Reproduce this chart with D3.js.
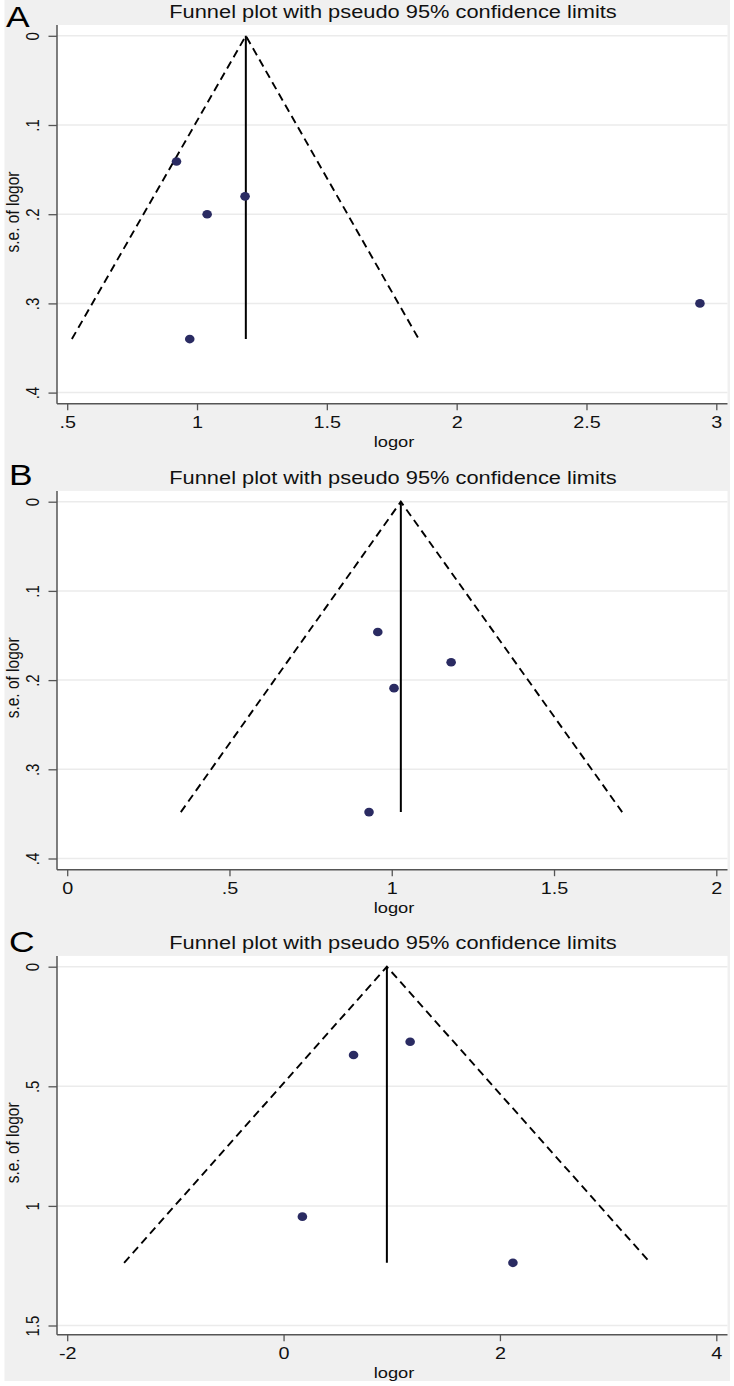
<!DOCTYPE html>
<html><head><meta charset="utf-8">
<script src="https://cdn.jsdelivr.net/npm/d3@7"></script>
<style>
html,body{margin:0;padding:0;background:#fff;}
svg{display:block;font-family:"Liberation Sans",Arial,sans-serif;}
</style></head>
<body>
<svg id="chart" width="734" height="1386"></svg>
<script>
// ---------------- data ----------------
const panelLetters = ["A", "B", "C"];
const titleText = "Funnel plot with pseudo 95% confidence limits";
const xTitle = "logor";
const yTitle = "s.e. of logor";

// Panel A
const xTicksA = [0.5, 1, 1.5, 2, 2.5, 3];
const xLabelsA = [".5", "1", "1.5", "2", "2.5", "3"];
const yTicksA = [0, 0.1, 0.2, 0.3, 0.4];
const yLabelsA = ["0", ".1", ".2", ".3", ".4"];
const logorA = [0.921, 1.039, 1.185, 0.972, 2.937];
const seA = [0.141, 0.200, 0.180, 0.340, 0.300];
const funnelXA = [0.518, 1.188, 1.854];
const funnelSeA = [0.340, 0, 0.340];
const centerA = 1.188;

// Panel B
const xTicksB = [0, 0.5, 1, 1.5, 2];
const xLabelsB = ["0", ".5", "1", "1.5", "2"];
const yTicksB = [0, 0.1, 0.2, 0.3, 0.4];
const yLabelsB = ["0", ".1", ".2", ".3", ".4"];
const logorB = [0.957, 1.183, 1.007, 0.930];
const seB = [0.146, 0.180, 0.209, 0.348];
const funnelXB = [0.350, 1.028, 1.710];
const funnelSeB = [0.348, 0, 0.348];
const centerB = 1.028;

// Panel C
const xTicksC = [-2, 0, 2, 4];
const xLabelsC = ["-2", "0", "2", "4"];
const yTicksC = [0, 0.5, 1, 1.5];
const yLabelsC = ["0", ".5", "1", "1.5"];
const logorC = [0.647, 1.170, 0.174, 2.120];
const seC = [0.369, 0.314, 1.045, 1.238];
const funnelXC = [-1.474, 0.955, 3.390];
const funnelSeC = [1.238, 0, 1.238];
const centerC = 0.955;

const panels = [
  {letter: panelLetters[0], xt: xTicksA, xl: xLabelsA, yt: yTicksA, yl: yLabelsA, x: logorA, se: seA, fx: funnelXA, fs: funnelSeA, c: centerA},
  {letter: panelLetters[1], xt: xTicksB, xl: xLabelsB, yt: yTicksB, yl: yLabelsB, x: logorB, se: seB, fx: funnelXB, fs: funnelSeB, c: centerB},
  {letter: panelLetters[2], xt: xTicksC, xl: xLabelsC, yt: yTicksC, yl: yLabelsC, x: logorC, se: seC, fx: funnelXC, fs: funnelSeC, c: centerC}
];

// ---------------- layout ----------------
const SX = 1.18;               // horizontal stretch of the original figure's text
const offsets = [0, 465.9, 930.9];
const letterBase = [27, 19.2, 21.1];
const letterX = [6, 9, 9];
const yBottomPx = [392.6, 392.6, 394.6];
const plotL = 57, plotR = 727.5, plotT = 25, plotB = 403.8;
const xR0 = 67.2, xR1 = 716.3, yR0 = 35.8;

const svg = d3.select("#chart");
svg.append("rect").attr("x", 4.5).attr("y", 0).attr("width", 725.5).attr("height", 1381).attr("fill", "#f0f0f0");

panels.forEach((p, i) => {
  const g = svg.append("g").attr("transform", `translate(0,${offsets[i]})`);
  const x = d3.scaleLinear().domain([p.xt[0], p.xt[p.xt.length - 1]]).range([xR0, xR1]);
  const y = d3.scaleLinear().domain([0, p.yt[p.yt.length - 1]]).range([yR0, yBottomPx[i]]);

  // plot region
  g.append("rect").attr("x", plotL).attr("y", plotT).attr("width", plotR - plotL).attr("height", plotB - plotT).attr("fill", "#fff");

  // grid
  g.selectAll("line.grid").data(p.yt).enter().append("line")
    .attr("x1", plotL).attr("x2", plotR)
    .attr("y1", d => y(d)).attr("y2", d => y(d))
    .attr("stroke", "#ebebeb").attr("stroke-width", 1.5);

  // funnel
  const pts = p.fx.map((v, k) => [x(v), y(p.fs[k])]);
  g.append("path").attr("d", d3.line()(pts)).attr("fill", "none")
    .attr("stroke", "#000").attr("stroke-width", 1.9).attr("stroke-dasharray", "8,5");
  g.append("line").attr("x1", x(p.c)).attr("x2", x(p.c))
    .attr("y1", y(0)).attr("y2", y(d3.max(p.fs)))
    .attr("stroke", "#000").attr("stroke-width", 2);

  // points
  g.selectAll("ellipse.pt").data(p.x.map((v, k) => [v, p.se[k]])).enter().append("ellipse")
    .attr("cx", d => x(d[0])).attr("cy", d => y(d[1]))
    .attr("rx", 4.8).attr("ry", 4.3).attr("fill", "#2a2b62");

  // axes
  const yAxis = d3.axisLeft(y).tickValues(p.yt).tickFormat((d, k) => p.yl[k]).tickSize(8.5).tickSizeOuter(0);
  const ya = g.append("g").attr("transform", `translate(${plotL},0)`).call(yAxis);
  ya.select(".domain").remove();
  ya.selectAll(".tick line").attr("stroke", "#555").attr("stroke-width", 1.3);
  ya.selectAll(".tick text")
    .attr("x", null).attr("dy", null)
    .attr("text-anchor", "middle")
    .attr("transform", `translate(-18.5,0) scale(${SX},1) rotate(-90)`)
    .attr("font-size", 15).attr("fill", "#111")
    .attr("font-family", "Liberation Sans, Arial, sans-serif");

  const xAxis = d3.axisBottom(x).tickValues(p.xt).tickFormat((d, k) => p.xl[k]).tickSize(6.5).tickSizeOuter(0);
  const xa = g.append("g").attr("transform", `translate(0,${plotB})`).call(xAxis);
  xa.select(".domain").remove();
  xa.selectAll(".tick line").attr("stroke", "#555").attr("stroke-width", 1.3);
  xa.selectAll(".tick text")
    .attr("y", null).attr("dy", null)
    .attr("text-anchor", "middle")
    .attr("transform", `translate(0,24.5) scale(${SX},1)`)
    .attr("font-size", 16.8).attr("fill", "#111")
    .attr("font-family", "Liberation Sans, Arial, sans-serif");

  g.append("line").attr("x1", plotL).attr("x2", plotL).attr("y1", plotT).attr("y2", plotB)
    .attr("stroke", "#555").attr("stroke-width", 1.5);
  g.append("line").attr("x1", plotL).attr("x2", plotR).attr("y1", plotB).attr("y2", plotB)
    .attr("stroke", "#555").attr("stroke-width", 1.5);

  // titles
  g.append("text").text(titleText)
    .attr("transform", `translate(393,18.3) scale(${SX},1)`)
    .attr("text-anchor", "middle").attr("font-size", 18.5).attr("fill", "#111");
  g.append("text").text(xTitle)
    .attr("transform", `translate(394,447) scale(${SX},1)`)
    .attr("text-anchor", "middle").attr("font-size", 15.5).attr("fill", "#111");
  g.append("text").text(yTitle)
    .attr("transform", `translate(19,212) scale(${SX},1) rotate(-90)`)
    .attr("text-anchor", "middle").attr("font-size", 15.5).attr("fill", "#111");
  g.append("text").text(p.letter)
    .attr("transform", `translate(${letterX[i]},${letterBase[i]}) scale(${SX},1)`)
    .attr("font-size", 30).attr("fill", "#000");
});
</script>
</body></html>
